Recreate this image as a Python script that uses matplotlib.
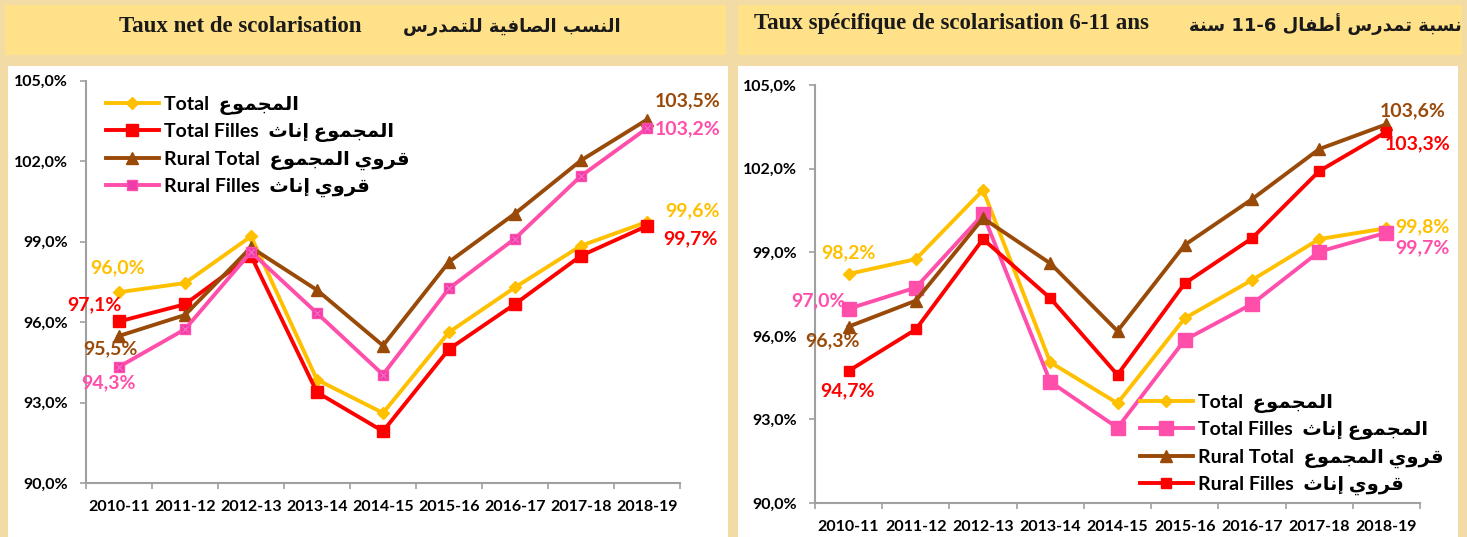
import matplotlib
matplotlib.use("Agg")
import matplotlib.pyplot as plt
from matplotlib.patches import Rectangle

# ---------------- data ----------------
years = ["2010-11", "2011-12", "2012-13", "2013-14", "2014-15",
         "2015-16", "2016-17", "2017-18", "2018-19"]

# left chart : Taux net de scolarisation
net_total = [97.12, 97.46, 99.20, 93.86, 92.62, 95.63, 97.30, 98.85, 99.74]
net_total_filles = [96.03, 96.67, 98.48, 93.39, 91.94, 95.00, 96.68, 98.48, 99.59]
net_rural_total = [95.49, 96.27, 98.79, 97.20, 95.13, 98.25, 100.05, 102.03, 103.55]
net_rural_filles = [94.34, 95.74, 98.62, 96.34, 94.05, 97.26, 99.12, 101.45, 103.23]

# right chart : Taux spécifique de scolarisation 6-11 ans
spe_total = [98.22, 98.75, 101.23, 95.05, 93.58, 96.63, 98.00, 99.47, 99.86]
spe_total_filles = [96.97, 97.73, 100.36, 94.35, 92.70, 95.85, 97.14, 99.02, 99.70]
spe_rural_total = [96.33, 97.26, 100.22, 98.60, 96.17, 99.26, 100.90, 102.70, 103.59]
spe_rural_filles = [94.74, 96.23, 99.47, 97.35, 94.60, 97.88, 99.50, 101.91, 103.32]

# data labels as printed on the chart
net_labels_first = ["96,0%", "97,1%", "95,5%", "94,3%"]
net_labels_last = ["99,6%", "99,7%", "103,5%", "103,2%"]
spe_labels_first = ["98,2%", "97,0%", "96,3%", "94,7%"]
spe_labels_last = ["99,8%", "99,7%", "103,6%", "103,3%"]

yticks = [90, 93, 96, 99, 102, 105]

# ---------------- arabic shaping (presentation forms) ----------------
FORMS = {
    'ا': ('\uFE8D', '\uFE8E', None, None),
    'أ': ('\uFE83', '\uFE84', None, None),
    'إ': ('\uFE87', '\uFE88', None, None),
    'ب': ('\uFE8F', '\uFE90', '\uFE91', '\uFE92'),
    'ة': ('\uFE93', '\uFE94', None, None),
    'ت': ('\uFE95', '\uFE96', '\uFE97', '\uFE98'),
    'ث': ('\uFE99', '\uFE9A', '\uFE9B', '\uFE9C'),
    'ج': ('\uFE9D', '\uFE9E', '\uFE9F', '\uFEA0'),
    'د': ('\uFEA9', '\uFEAA', None, None),
    'ر': ('\uFEAD', '\uFEAE', None, None),
    'س': ('\uFEB1', '\uFEB2', '\uFEB3', '\uFEB4'),
    'ص': ('\uFEB9', '\uFEBA', '\uFEBB', '\uFEBC'),
    'ط': ('\uFEC1', '\uFEC2', '\uFEC3', '\uFEC4'),
    'ع': ('\uFEC9', '\uFECA', '\uFECB', '\uFECC'),
    'ف': ('\uFED1', '\uFED2', '\uFED3', '\uFED4'),
    'ق': ('\uFED5', '\uFED6', '\uFED7', '\uFED8'),
    'ل': ('\uFEDD', '\uFEDE', '\uFEDF', '\uFEE0'),
    'م': ('\uFEE1', '\uFEE2', '\uFEE3', '\uFEE4'),
    'ن': ('\uFEE5', '\uFEE6', '\uFEE7', '\uFEE8'),
    'و': ('\uFEED', '\uFEEE', None, None),
    'ي': ('\uFEF1', '\uFEF2', '\uFEF3', '\uFEF4'),
}


def shape_word(word):
    if not any(c in FORMS for c in word):
        return word
    out = []
    n = len(word)
    for i, c in enumerate(word):
        if c not in FORMS:
            out.append(c)
            continue
        f = FORMS[c]
        jp = i > 0 and word[i - 1] in FORMS and FORMS[word[i - 1]][2] is not None
        jn = i < n - 1 and word[i + 1] in FORMS and f[2] is not None
        if jp and jn:
            out.append(f[3])
        elif jp:
            out.append(f[1])
        elif jn:
            out.append(f[2])
        else:
            out.append(f[0])
    return ''.join(reversed(out))


def ar(phrase):
    words = phrase.split(' ')
    return ' '.join(shape_word(w) for w in reversed(words))


# ---------------- style ----------------
C_YEL = '#FFC000'
C_RED = '#FF0000'
C_BRN = '#9A4A08'
C_PNK = '#FF4FAA'
TXT_FONT = ['Lato', 'DejaVu Sans']
AR_FONT = ['DejaVu Sans']

W, H = 1467, 537
fig = plt.figure(figsize=(W / 100, H / 100), dpi=100)
fig.patch.set_facecolor('#F3DBA6')


def fx(px):
    return px / W


def fy(py):
    return 1 - py / H


# white panels and title boxes
for (x0, y0, x1, y1, col) in [(8, 66, 728, 537, 'white'),
                              (738, 66, 1458, 537, 'white'),
                              (5, 5, 726, 55, '#FFE189'),
                              (738, 5, 1462, 55, '#FFE189')]:
    fig.add_artist(Rectangle((fx(x0), fy(y1)), fx(x1 - x0), (y1 - y0) / H,
                             transform=fig.transFigure, facecolor=col,
                             edgecolor='none', zorder=0))

# titles
fig.text(fx(240), fy(27), "Taux net de scolarisation", ha='center', va='center',
         family='Liberation Serif', weight='bold', fontsize=16.5, color='#1a1a1a')
fig.text(fx(512), fy(27), ar("النسب الصافية للتمدرس"), ha='center', va='center',
         family=AR_FONT, weight='bold', fontsize=13, color='#1a1a1a')
fig.text(fx(951), fy(24), "Taux spécifique de scolarisation 6-11 ans", ha='center',
         va='center', family='Liberation Serif', weight='bold', fontsize=16.5,
         color='#1a1a1a')
fig.text(fx(1325), fy(24), ar("سنة") + " 11-6 " + ar("نسبة تمدرس أطفال"),
         ha='center', va='center', family=AR_FONT, weight='bold', fontsize=13,
         color='#1a1a1a')


def make_axes(rect):
    ax = fig.add_axes(rect)
    ax.set_facecolor('none')
    x = list(range(len(years)))
    ax.set_xlim(-0.5, len(years) - 0.5)
    ax.set_ylim(90, 105)
    ax.set_yticks(yticks)
    ax.set_yticklabels([f"{v:.1f}%".replace('.', ',') for v in yticks])
    ax.set_xticks([i - 0.5 for i in range(len(years) + 1)])
    ax.set_xticklabels([])
    ax.set_xticks(x, minor=True)
    ax.set_xticklabels(years, minor=True)
    ax.tick_params(axis='x', which='minor', length=0, pad=12)
    ax.tick_params(axis='x', which='major', length=4, color='#A0A0A0', width=1.2)
    ax.tick_params(axis='y', length=4, color='#A0A0A0', width=1.2, pad=9)
    for lab in ax.get_xticklabels(minor=True) + ax.get_yticklabels():
        lab.set_family(TXT_FONT)
        lab.set_weight('bold')
        lab.set_fontsize(11.5)
    for s in ['top', 'right']:
        ax.spines[s].set_visible(False)
    for s in ['left', 'bottom']:
        ax.spines[s].set_color('#A0A0A0')
        ax.spines[s].set_linewidth(1.5)
    return ax, x


LW = 2.8

# ---------------- left chart ----------------
axL, x = make_axes([fx(86), 1 - 483.3 / H, fx(680) - fx(86), 402.6 / H])
lt, = axL.plot(x, net_total, color=C_YEL, lw=LW, marker='D', ms=6, mfc=C_YEL, mec=C_YEL,
               label="Total  " + ar("المجموع"), clip_on=False)
lf, = axL.plot(x, net_total_filles, color=C_RED, lw=LW, marker='s', ms=9, mfc=C_RED,
               mec=C_RED, label="Total Filles  " + ar("المجموع إناث"), clip_on=False)
lr, = axL.plot(x, net_rural_total, color=C_BRN, lw=LW, marker='^', ms=8.5, mfc=C_BRN,
               mec=C_BRN, label="Rural Total  " + ar("قروي المجموع"), clip_on=False)
lp, = axL.plot(x, net_rural_filles, color=C_PNK, lw=LW, marker='s', ms=7, mfc='#EE3DAA',
               mec=C_PNK, label="Rural Filles  " + ar("قروي إناث"), clip_on=False)
axL.plot(x, net_rural_filles, ls='none', marker='x', ms=5, mec='#FF70C0', mew=0.8,
         clip_on=False)

axL.legend(handles=[lt, lf, lr, lp], loc='upper left',
           bbox_to_anchor=(fx(106), fy(96)), bbox_transform=fig.transFigure,
           frameon=False, handlelength=2.7, handletextpad=0.3,
           labelspacing=0.42, borderpad=0, borderaxespad=0,
           prop={'family': TXT_FONT, 'weight': 'bold', 'size': 14})


def label(ax, xi, yi, txt, col, dx, dy):
    ax.annotate(txt, (xi, yi), xytext=(dx * 0.72, dy * 0.72), textcoords='offset points',
                ha='center', va='center', color=col, family=TXT_FONT, weight='bold',
                fontsize=14, annotation_clip=False)


cols = [C_YEL, C_RED, C_BRN, C_PNK]
seriesL = [net_total, net_total_filles, net_rural_total, net_rural_filles]
offL_first = [(-1, 24), (-24.5, 17), (-9, -13), (-10, -16)]
offL_last = [(46, 11), (43, -13), (41, 19), (41, -1)]
for s, c, t, o in zip(seriesL, cols, net_labels_first, offL_first):
    label(axL, 0, s[0], t, c, *o)
for s, c, t, o in zip(seriesL, cols, net_labels_last, offL_last):
    label(axL, 8, s[-1], t, c, *o)

# ---------------- right chart ----------------
axR, x = make_axes([fx(815), 1 - 503 / H, fx(1420) - fx(815), 418 / H])
rt, = axR.plot(x, spe_total, color=C_YEL, lw=LW, marker='D', ms=6, mfc=C_YEL, mec=C_YEL,
               label="Total  " + ar("المجموع"), clip_on=False)
rf, = axR.plot(x, spe_total_filles, color=C_PNK, lw=LW, marker='s', ms=9.5, mfc=C_PNK,
               mec=C_PNK, label="Total Filles  " + ar("المجموع إناث"), clip_on=False)
rr, = axR.plot(x, spe_rural_total, color=C_BRN, lw=LW, marker='^', ms=8.5, mfc=C_BRN,
               mec=C_BRN, label="Rural Total  " + ar("قروي المجموع"), clip_on=False)
rp, = axR.plot(x, spe_rural_filles, color=C_RED, lw=LW, marker='s', ms=6.5, mfc=C_RED,
               mec=C_RED, label="Rural Filles  " + ar("قروي إناث"), clip_on=False)

axR.legend(handles=[rt, rf, rr, rp], loc='upper left',
           bbox_to_anchor=(fx(1140), fy(394)), bbox_transform=fig.transFigure,
           frameon=False, handlelength=2.7, handletextpad=0.3,
           labelspacing=0.42, borderpad=0, borderaxespad=0,
           prop={'family': TXT_FONT, 'weight': 'bold', 'size': 14})

colsR = [C_YEL, C_PNK, C_BRN, C_RED]
seriesR = [spe_total, spe_total_filles, spe_rural_total, spe_rural_filles]
offR_first = [(0, 21), (-30, 8), (-16, -14), (-1.5, -20)]
offR_last = [(36, 1), (36, -15), (26, 14), (31, -12)]
for s, c, t, o in zip(seriesR, colsR, spe_labels_first, offR_first):
    label(axR, 0, s[0], t, c, *o)
for s, c, t, o in zip(seriesR, colsR, spe_labels_last, offR_last):
    label(axR, 8, s[-1], t, c, *o)

fig.savefig("out.png", dpi=100, facecolor=fig.get_facecolor())
